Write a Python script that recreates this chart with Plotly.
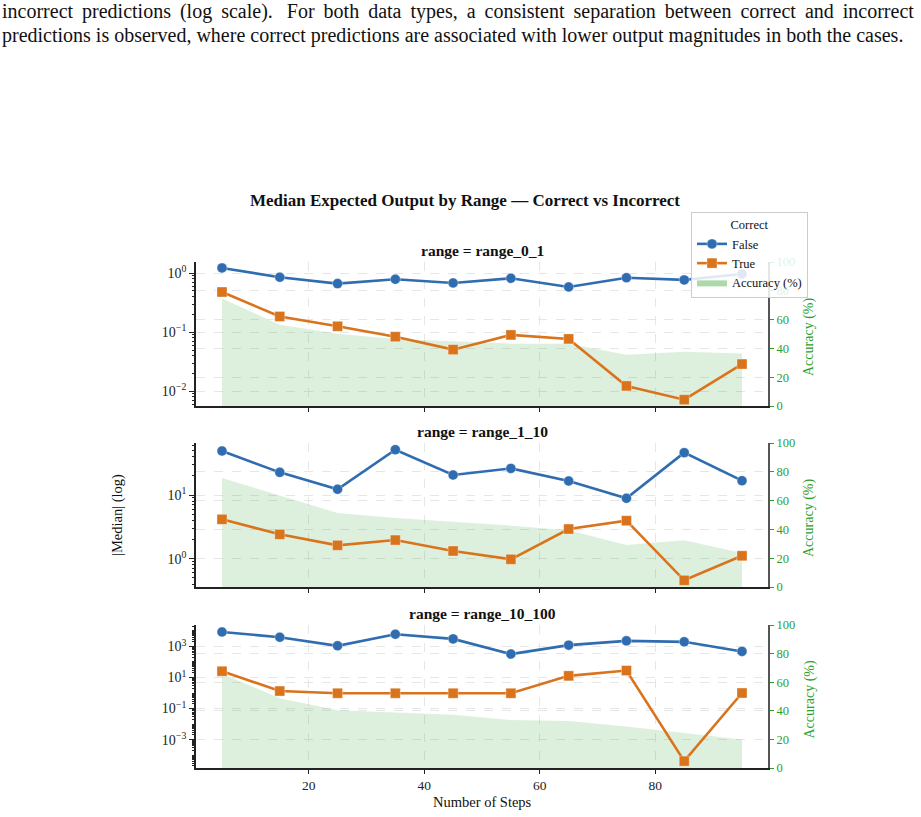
import numpy as np
import plotly.graph_objects as go

# ---------------- data ----------------
steps = [5, 15, 25, 35, 45, 55, 65, 75, 85, 95]
ranges = ["range_0_1", "range_1_10", "range_10_100"]

false_0_1 = [1.23, 0.855, 0.667, 0.79, 0.684, 0.82, 0.585, 0.84, 0.77, 0.97]
true_0_1 = [0.48, 0.185, 0.126, 0.084, 0.0507, 0.090, 0.077, 0.0123, 0.0072, 0.0289]
acc_0_1 = [74.7, 56.4, 50.1, 46.6, 45.0, 43.3, 43.3, 35.6, 37.7, 36.5]

false_1_10 = [49.1, 22.7, 12.3, 51.5, 20.6, 26.2, 16.6, 8.87, 46.3, 16.8]
true_1_10 = [4.15, 2.41, 1.62, 1.96, 1.32, 0.977, 2.92, 3.95, 0.457, 1.11]
acc_1_10 = [75.7, 63.5, 51.4, 47.9, 45.4, 42.6, 39.4, 29.2, 32.4, 23.6]

false_10_100 = [8630, 3940, 1100, 6120, 3080, 324, 1220, 2300, 1990, 480]
true_10_100 = [25.4, 1.34, 0.97, 0.97, 0.97, 0.97, 12.8, 28.0, 4.1e-5, 1.0]
acc_10_100 = [66.0, 48.7, 40.4, 39.0, 37.2, 33.5, 32.8, 29.1, 24.5, 19.9]

false_vals = [false_0_1, false_1_10, false_10_100]
true_vals = [true_0_1, true_1_10, true_10_100]
acc_vals = [acc_0_1, acc_1_10, acc_10_100]

log_ranges = [[-2.25, 0.19], [-0.445, 1.817], [-4.83, 4.383]]
log_tick_exps = [[-2, -1, 0], [0, 1], [-3, -1, 1, 3]]

caption_1 = "incorrect predictions (log scale).  For both data types, a consistent separation between correct and incorrect"
caption_2 = "predictions is observed, where correct predictions are associated with lower output magnitudes in both the cases."

# ---------------- style ----------------
W, H = 921, 817
FONT = "Liberation Serif, Times New Roman, serif"
BLUE = "#2f6db0"
ORANGE = "#d9731c"
GREEN_TXT = "#2ca02c"
FILL = "rgba(44,160,44,0.16)"
GRID = "#e6e6e6"

x0_px, x1_px = 196, 768
panel_px = [(262, 406), (443, 587), (625, 768)]


def px_x(p):
    return p / W


def px_y(p):
    return 1 - p / H


def justify(line):
    # widen the word gaps a little (thin space) to mimic the justified caption
    return line.replace(" ", " \u2009").replace("\u2009 \u2009", " \u2009")


fig = go.Figure()
layout = {}

for i in range(3):
    acc_ax = 2 * i + 1
    log_ax = 2 * i + 2
    xname = "x" if i == 0 else f"x{i + 1}"
    xkey = "xaxis" if i == 0 else f"xaxis{i + 1}"
    acc_yname = "y" if acc_ax == 1 else f"y{acc_ax}"
    acc_ykey = "yaxis" if acc_ax == 1 else f"yaxis{acc_ax}"
    log_yname = f"y{log_ax}"
    log_ykey = f"yaxis{log_ax}"
    top, bot = panel_px[i]
    dom_y = [px_y(bot), px_y(top)]

    fig.add_trace(go.Scatter(
        x=steps, y=acc_vals[i], mode="lines", fill="tozeroy",
        fillcolor=FILL, line=dict(width=0, color="rgba(0,0,0,0)"),
        name="Accuracy (%)", showlegend=False, xaxis=xname, yaxis=acc_yname,
        hoverinfo="skip"))
    fig.add_trace(go.Scatter(
        x=steps, y=false_vals[i], mode="lines+markers", name="False",
        line=dict(color=BLUE, width=2.6),
        marker=dict(symbol="circle", size=10, color=BLUE,
                    line=dict(width=1, color="rgba(255,255,255,0.35)")),
        showlegend=(i == 0), xaxis=xname, yaxis=log_yname))
    fig.add_trace(go.Scatter(
        x=steps, y=true_vals[i], mode="lines+markers", name="True",
        line=dict(color=ORANGE, width=2.6),
        marker=dict(symbol="square", size=10, color=ORANGE,
                    line=dict(width=1, color="rgba(255,255,255,0.35)")),
        showlegend=(i == 0), xaxis=xname, yaxis=log_yname))

    layout[xkey] = dict(
        domain=[px_x(x0_px), px_x(x1_px)], anchor=acc_yname,
        range=[0.5, 99.5], tickvals=[20, 40, 60, 80],
        showticklabels=(i == 2), ticks="outside", ticklen=4,
        tickcolor="#222", showline=True, linecolor="#222", linewidth=1.8,
        showgrid=True, gridcolor=GRID, griddash="dash", gridwidth=0.8,
        zeroline=False, automargin=False,
        tickfont=dict(family=FONT, size=13.5, color="#222"))
    layout[acc_ykey] = dict(
        domain=dom_y, anchor=xname, side="right", range=[0, 100],
        tickvals=[0, 20, 40, 60, 80, 100], ticks="outside", ticklen=4,
        tickcolor=GREEN_TXT, tickfont=dict(family=FONT, size=12.5, color=GREEN_TXT),
        showline=True, linecolor="#555", linewidth=2,
        showgrid=True, gridcolor=GRID, griddash="dash", gridwidth=0.8,
        zeroline=False, automargin=False)

    lo, hi = log_ranges[i]
    exps = log_tick_exps[i]
    minor = []
    for e in range(int(np.floor(lo)) - 1, int(np.ceil(hi)) + 1):
        for m in range(1, 10):
            v = m * 10.0 ** e
            if lo <= np.log10(v) <= hi and not (m == 1 and e in exps):
                minor.append(v)
    layout[log_ykey] = dict(
        domain=dom_y, anchor=xname, overlaying=acc_yname, side="left",
        type="log", range=[lo, hi],
        tickvals=[10.0 ** e for e in exps],
        ticktext=[f"10<sup>{e}</sup>" if e >= 0 else f"10<sup>\u2212{-e}</sup>" for e in exps],
        ticks="outside", ticklen=5, tickcolor="#222",
        tickfont=dict(family=FONT, size=14, color="#222"),
        minor=dict(tickvals=minor, ticks="outside", ticklen=2.5, tickcolor="#222",
                   showgrid=False),
        showline=True, linecolor="#222", linewidth=1.8,
        showgrid=True, gridcolor=GRID, griddash="dash", gridwidth=0.8,
        zeroline=False, automargin=False)

# legend proxy for the accuracy area
fig.add_trace(go.Scatter(
    x=[None], y=[None], mode="lines", fill="tozeroy",
    fillcolor="rgba(44,160,44,0.4)", line=dict(width=0, color="rgba(0,0,0,0)"),
    name="Accuracy (%)", showlegend=True, xaxis="x", yaxis="y"))

annotations = []
annotations.append(dict(text=justify(caption_1), x=0, y=px_y(12), xref="paper", yref="paper",
                        xanchor="left", yanchor="middle", showarrow=False,
                        font=dict(family=FONT, size=20, color="#111")))
annotations.append(dict(text=caption_2, x=0, y=px_y(35), xref="paper", yref="paper",
                        xanchor="left", yanchor="middle", showarrow=False,
                        font=dict(family=FONT, size=20, color="#111")))
annotations.append(dict(text="<b>Median Expected Output by Range \u2014 Correct vs Incorrect</b>",
                        x=px_x(465), y=px_y(201), xref="paper", yref="paper",
                        xanchor="center", yanchor="middle", showarrow=False,
                        font=dict(family=FONT, size=17, color="#111")))
for i in range(3):
    top, bot = panel_px[i]
    annotations.append(dict(text=f"<b>range = {ranges[i]}</b>",
                            x=px_x(482), y=px_y(top - 12), xref="paper", yref="paper",
                            xanchor="center", yanchor="middle", showarrow=False,
                            font=dict(family=FONT, size=15.5, color="#111")))
    annotations.append(dict(text="Accuracy (%)", textangle=-90,
                            x=px_x(809), y=px_y((top + bot) / 2 + 3), xref="paper", yref="paper",
                            xanchor="center", yanchor="middle", showarrow=False,
                            font=dict(family=FONT, size=14, color=GREEN_TXT)))
annotations.append(dict(text="|Median| (log)", textangle=-90,
                        x=px_x(117), y=px_y(515), xref="paper", yref="paper",
                        xanchor="center", yanchor="middle", showarrow=False,
                        font=dict(family=FONT, size=14.5, color="#111")))
annotations.append(dict(text="Number of Steps",
                        x=px_x(482), y=px_y(802), xref="paper", yref="paper",
                        xanchor="center", yanchor="middle", showarrow=False,
                        font=dict(family=FONT, size=14.5, color="#111")))

fig.update_layout(
    width=W, height=H, margin=dict(l=0, r=0, t=0, b=0),
    paper_bgcolor="white", plot_bgcolor="rgba(0,0,0,0)",
    font=dict(family=FONT, color="#111"),
    showlegend=True,
    legend=dict(x=px_x(691), y=px_y(212), xanchor="left", yanchor="top",
                bgcolor="rgba(255,255,255,0.85)", bordercolor="#cccccc", borderwidth=1,
                font=dict(family=FONT, size=12.5, color="#111"),
                title=dict(text="Correct", side="top center",
                           font=dict(family=FONT, size=12.5, color="#111")),
                tracegroupgap=0, itemwidth=30),
    annotations=annotations,
    **layout,
)

fig.write_html("out.html")
